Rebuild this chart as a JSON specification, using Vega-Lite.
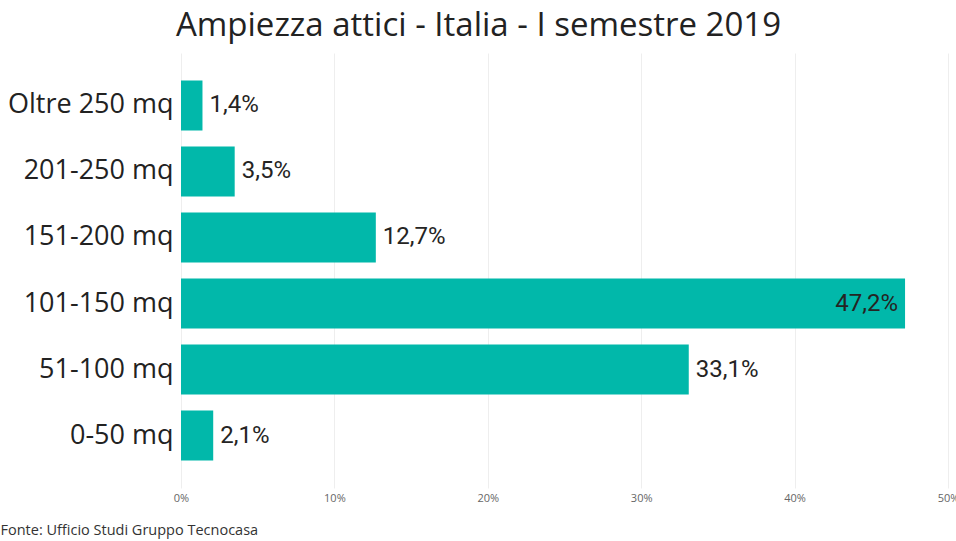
{
  "$schema": "https://vega.github.io/schema/vega-lite/v6.json",
  "width": 767,
  "height": 435,
  "autosize": "none",
  "padding": {"left": 181, "top": 53, "right": 8, "bottom": 53},
  "background": "white",
  "title": {
    "text": "Ampiezza attici - Italia - I semestre 2019",
    "font": "Open Sans",
    "fontSize": 33,
    "fontWeight": "normal",
    "color": "#222222",
    "anchor": "middle",
    "dx": -86,
    "offset": 10
  },
  "data": {
    "values": [
      {"categoria": "Oltre 250 mq", "quota": 0.014},
      {"categoria": "201-250 mq", "quota": 0.035},
      {"categoria": "151-200 mq", "quota": 0.127},
      {"categoria": "101-150 mq", "quota": 0.472},
      {"categoria": "51-100 mq", "quota": 0.331},
      {"categoria": "0-50 mq", "quota": 0.021}
    ]
  },
  "encoding": {
    "y": {
      "field": "categoria",
      "type": "nominal",
      "sort": null,
      "scale": {"paddingInner": 0.24, "paddingOuter": 0.415},
      "axis": {
        "title": null,
        "labelFont": "Open Sans",
        "labelFontSize": 27,
        "labelColor": "#222222",
        "labelPadding": 8,
        "ticks": false,
        "domain": false,
        "grid": false
      }
    },
    "x": {
      "field": "quota",
      "type": "quantitative",
      "scale": {"domain": [0, 0.5], "nice": false},
      "axis": {
        "format": ".0%",
        "values": [0, 0.1, 0.2, 0.3, 0.4, 0.5],
        "labelFlush": false,
        "labelOverlap": false,
        "labelBound": false,
        "title": "Fonte: Ufficio Studi Gruppo Tecnocasa",
        "titleFont": "Open Sans",
        "titleFontSize": 14.5,
        "titleFontWeight": "normal",
        "titleColor": "#333333",
        "titleAlign": "left",
        "titleAnchor": "start",
        "titleX": -181,
        "titleY": 42,
        "titleBaseline": "middle",
        "labelFont": "Open Sans",
        "labelFontSize": 11,
        "labelColor": "#666666",
        "labelPadding": 4,
        "ticks": false,
        "domain": false,
        "grid": true,
        "gridColor": "#eeeeee",
        "gridWidth": 1
      }
    }
  },
  "layer": [
    {"mark": {"type": "bar", "color": "#01b8aa"}},
    {
      "transform": [{"filter": "datum.quota < 0.4"}],
      "mark": {"type": "text", "align": "left", "baseline": "middle", "dx": 7, "font": "Roboto", "fontSize": 24, "color": "#252423"},
      "encoding": {"text": {"field": "quota", "type": "quantitative", "format": ".1%"}}
    },
    {
      "transform": [{"filter": "datum.quota >= 0.4"}],
      "mark": {"type": "text", "align": "right", "baseline": "middle", "dx": -7, "font": "Roboto", "fontSize": 24, "color": "#252423"},
      "encoding": {"text": {"field": "quota", "type": "quantitative", "format": ".1%"}}
    }
  ],
  "config": {
    "view": {"stroke": null},
    "locale": {
      "number": {"decimal": ",", "thousands": ".", "grouping": [3], "currency": ["€", ""]}
    }
  }
}
